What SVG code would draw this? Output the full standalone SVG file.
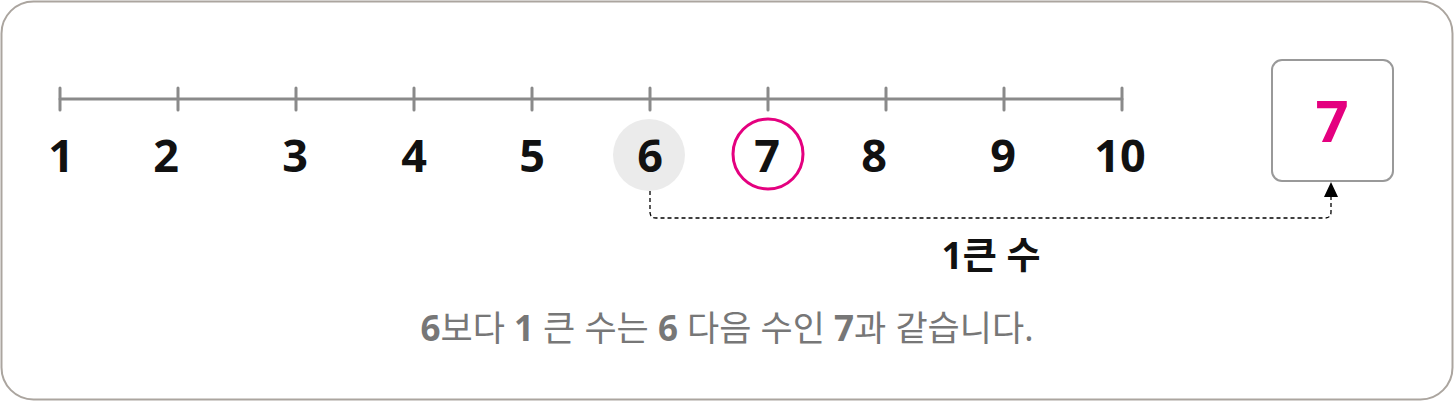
<svg xmlns="http://www.w3.org/2000/svg" width="1454" height="402" viewBox="0 0 1454 402">
<style>
.num{font-family:"Noto Sans","Noto Sans CJK KR",sans-serif;font-size:45px;font-weight:700;fill:#111;text-anchor:middle}
.tick{stroke:#8a8a8a;stroke-width:3;stroke-linecap:round}
.lbl{font-family:"Noto Sans","Noto Sans CJK KR",sans-serif;text-anchor:middle}
</style>
<rect x="1.5" y="1.5" width="1451" height="398" rx="32" fill="#fff" stroke="#aba59f" stroke-width="2"/>
<g id="numberline">
<line class="tick" x1="60" y1="99" x2="1122" y2="99"/>
<line class="tick" x1="60" y1="88" x2="60" y2="110"/>
<line class="tick" x1="178" y1="88" x2="178" y2="110"/>
<line class="tick" x1="296" y1="88" x2="296" y2="110"/>
<line class="tick" x1="414" y1="88" x2="414" y2="110"/>
<line class="tick" x1="532" y1="88" x2="532" y2="110"/>
<line class="tick" x1="650" y1="88" x2="650" y2="110"/>
<line class="tick" x1="768" y1="88" x2="768" y2="110"/>
<line class="tick" x1="886" y1="88" x2="886" y2="110"/>
<line class="tick" x1="1004" y1="88" x2="1004" y2="110"/>
<line class="tick" x1="1122" y1="88" x2="1122" y2="110"/>
</g>
<g id="highlight6"><circle cx="649" cy="155" r="36" fill="#ebebeb"/></g>
<g id="circle7"><circle cx="768" cy="154" r="35" fill="none" stroke="#e4007f" stroke-width="3"/></g>
<g id="labels">
<text class="num" x="61" y="172">1</text>
<text class="num" x="166" y="172">2</text>
<text class="num" x="295" y="172">3</text>
<text class="num" x="414" y="172">4</text>
<text class="num" x="532" y="172">5</text>
<text class="num" x="650" y="172">6</text>
<text class="num" x="767" y="172">7</text>
<text class="num" x="874" y="172">8</text>
<text class="num" x="1003" y="172">9</text>
<text class="num" x="1120" y="172">10</text>
</g>
<g id="answerbox">
<rect x="1272" y="60" width="121" height="121" rx="10" fill="#fff" stroke="#999" stroke-width="2"/>
<text class="lbl" x="1332" y="142" font-size="58" font-weight="700" fill="#e4007f">7</text>
</g>
<g id="connectors">
<path d="M650,191 V212 Q650,218 656,218 H1325 Q1331,218 1331,212 V196" fill="none" stroke="#000" stroke-width="1.3" stroke-dasharray="4,3"/>
<polygon points="1331,182 1338,197 1324,197" fill="#000"/>
</g>
<g id="connlabel">
<text class="lbl" x="991" y="269" font-size="37" font-weight="700" fill="#111">1큰 수</text>
</g>
<g id="caption">
<text class="lbl" x="727" y="341" font-size="35" fill="#777"><tspan font-weight="700">6</tspan>보다 <tspan font-weight="700">1</tspan> 큰 수는 <tspan font-weight="700">6</tspan> 다음 수인 <tspan font-weight="700">7</tspan>과 같습니다.</text>
</g>
</svg>
